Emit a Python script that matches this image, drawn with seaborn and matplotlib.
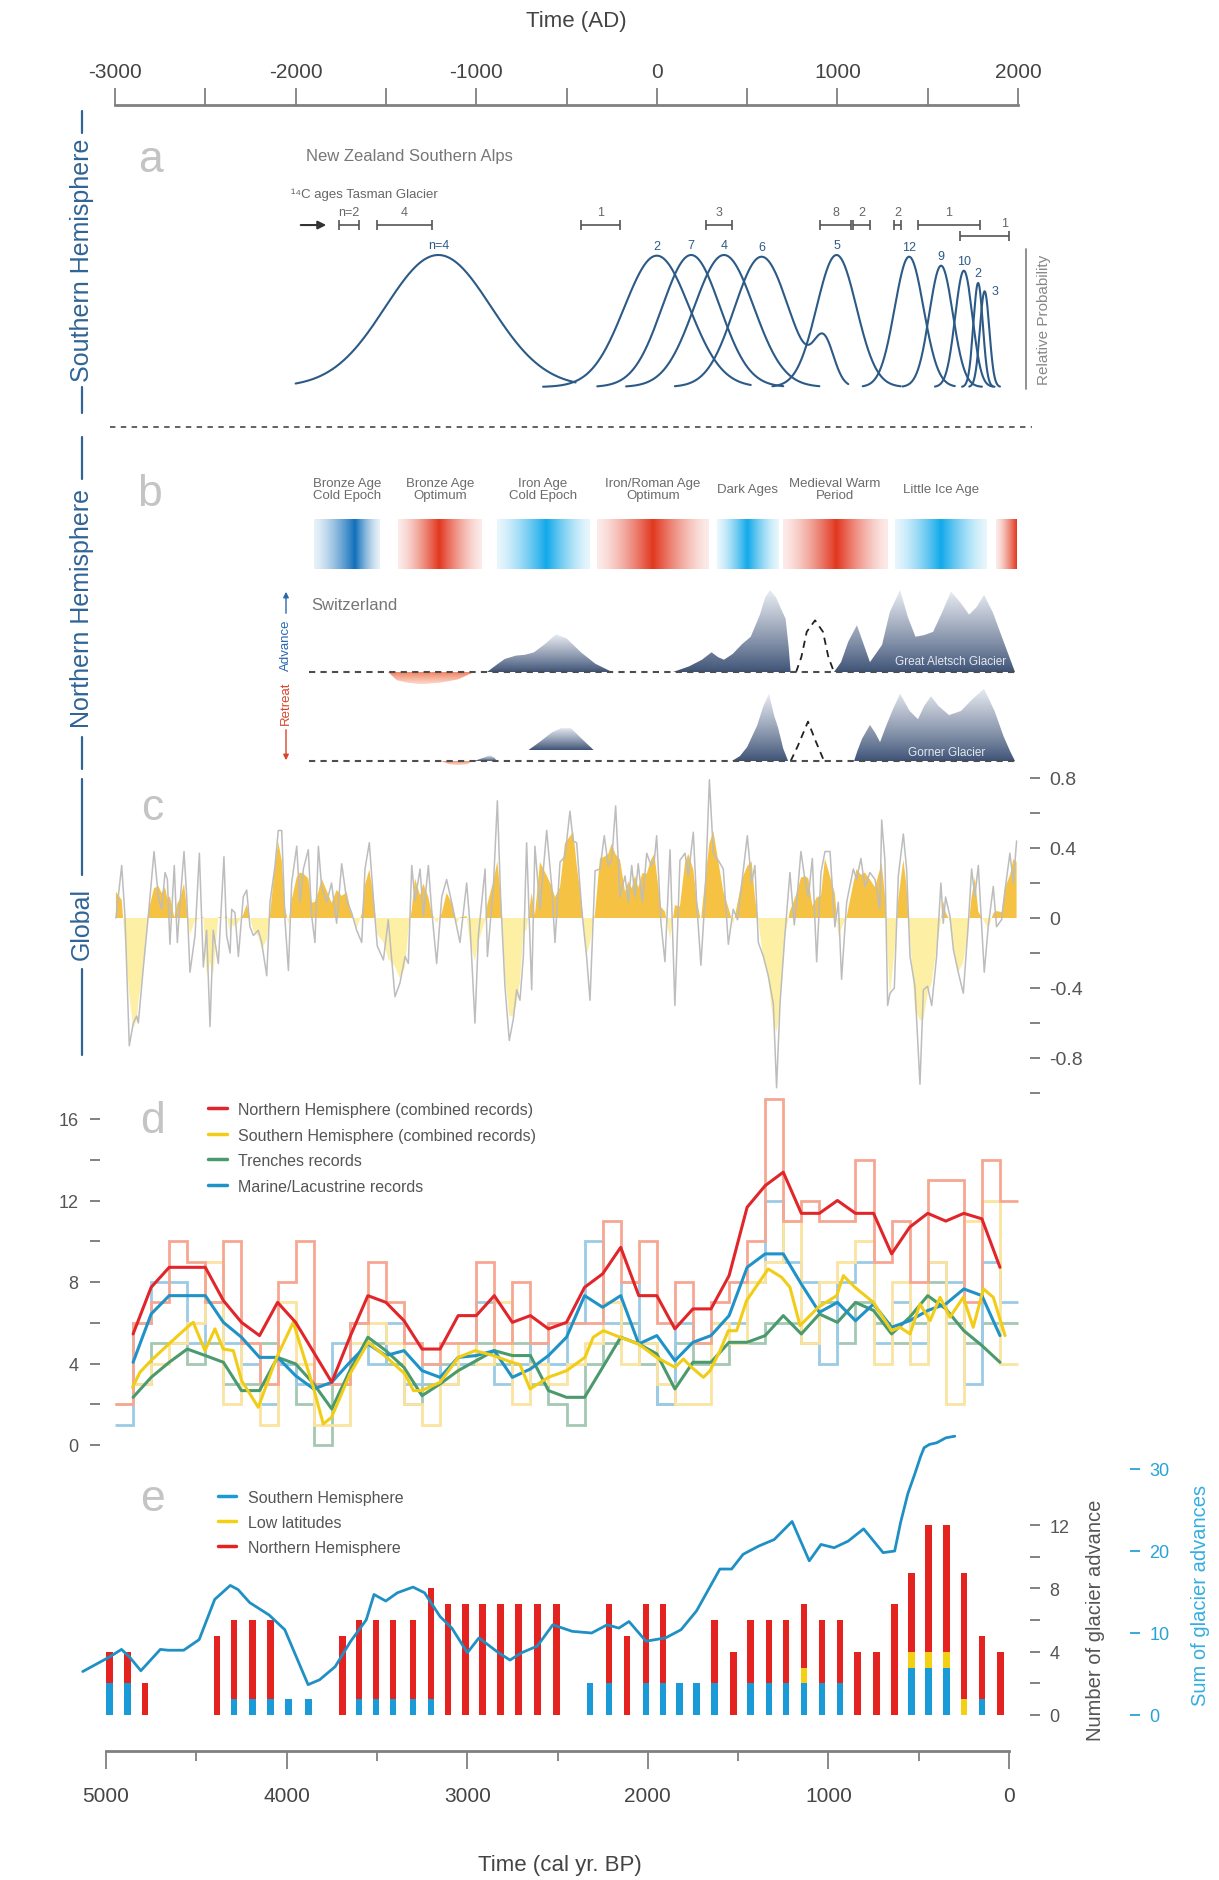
import numpy as np
import pandas as pd
import matplotlib
matplotlib.use("Agg")
import matplotlib.pyplot as plt
import seaborn as sns
from matplotlib.lines import Line2D
from matplotlib.path import Path
from matplotlib.patches import PathPatch, FancyArrowPatch
from matplotlib.colors import to_rgb

# ---------------------------------------------------------------- data
# (a) New Zealand Southern Alps, probability peaks (years AD)
nz_peak_ad = [-1210, 0, 190, 372, 580, 995, 1397, 1574, 1700, 1779, 1815]
nz_sigma = [293, 180, 160, 165, 150, 110, 80, 65, 48, 26, 26]
nz_height = [1.0, 0.995, 1.0, 1.0, 0.987, 1.0, 0.987, 0.919, 0.881, 0.788, 0.725]
nz_from_ad = [-2000, -630, -330, -170, 100, 640, 1140, 1360, 1540, 1690, 1730]
nz_to_ad = [-450, 520, 700, 900, 1060, 1350, 1650, 1800, 1860, 1870, 1900]
nz_label = ["n=4", "2", "7", "4", "6", "5", "12", "9", "10", "2", "3"]
shoulder_ad, shoulder_sigma, shoulder_h = 925, 55, 0.33   # bump on the AD 580 curve

c14_lo_ad = [-1760, -1549, -420, 272, 904, 1086, 1313, 1446, 1679]
c14_hi_ad = [-1649, -1245, -204, 416, 1075, 1180, 1352, 1790, 1950]
c14_n = ["n=2", "4", "1", "3", "8", "2", "2", "1", "1"]
c14_row = [0, 0, 0, 0, 0, 0, 0, 0, 1]
c14_arrow_ad = [-1987, -1815]

# (b) climate periods and Swiss glaciers (AD)
period_names = ["Bronze Age\nCold Epoch", "Bronze Age\nOptimum", "Iron Age\nCold Epoch",
                "Iron/Roman Age\nOptimum", "Dark Ages", "Medieval Warm\nPeriod", "Little Ice Age"]
band_start_ad = [-1898, -1433, -885, -331, 333, 699, 1319, 1878]
band_peak_ad = [-1671, -1206, -614, -21, 499, 992, 1574, 1994]
band_end_ad = [-1533, -968, -375, 289, 671, 1275, 1828, 1994]
band_color = ["#1170bb", "#e2371f", "#12a9ea", "#e2371f", "#12a9ea", "#e2371f", "#12a9ea", "#e2371f"]

al_ret_ad = [-1488, -1440, -1380, -1300, -1200, -1100, -1012]
al_ret_h = [0, -0.10, -0.13, -0.15, -0.13, -0.09, 0]
al_iron_ad = [-940, -880, -841, -780, -730, -680, -620, -558, -500, -420, -340, -248]
al_iron_h = [0, 0.10, 0.16, 0.20, 0.21, 0.24, 0.34, 0.46, 0.41, 0.24, 0.10, 0]
al_dark_ad = [90, 180, 250, 303, 340, 372, 420, 472, 520, 571, 600, 627, 660, 690, 713, 730, 741]
al_dark_h = [0, 0.07, 0.15, 0.24, 0.18, 0.15, 0.22, 0.34, 0.43, 0.70, 0.91, 1.0, 0.91, 0.76, 0.65, 0.30, 0]
al_mwp_ad = [771, 800, 830, 876, 920, 950, 981]
al_mwp_h = [0, 0.18, 0.49, 0.63, 0.49, 0.18, 0]
al_lia_ad = [981, 1020, 1060, 1108, 1140, 1180, 1247, 1290, 1347, 1390, 1432, 1480, 1530,
             1580, 1629, 1680, 1729, 1770, 1812, 1860, 1900, 1956, 1983]
al_lia_h = [0, 0.12, 0.37, 0.57, 0.37, 0.12, 0.33, 0.73, 1.0, 0.67, 0.43, 0.45, 0.49,
            0.73, 0.98, 0.85, 0.70, 0.79, 0.94, 0.73, 0.49, 0.16, 0]

go_ret_ad = [-1195, -1150, -1100, -1050, -1023]
go_ret_h = [0, -0.04, -0.05, -0.04, 0]
go_bump_ad = [-1012, -960, -924, -900, -885]
go_bump_h = [0, 0.04, 0.07, 0.04, 0]
go_iron_ad = [-713, -650, -580, -530, -475, -420, -348]
go_iron_h = [0, 0.10, 0.22, 0.27, 0.27, 0.15, 0]
go_iron_base = 0.13
go_dark_ad = [416, 460, 500, 555, 590, 621, 650, 671, 700, 727]
go_dark_h = [0, 0.06, 0.17, 0.43, 0.67, 0.82, 0.55, 0.41, 0.15, 0]
go_mwp_ad = [741, 780, 837, 880, 926]
go_mwp_h = [0, 0.18, 0.48, 0.24, 0]
go_lia_ad = [1092, 1110, 1136, 1180, 1210, 1236, 1270, 1307, 1347, 1400, 1446, 1480, 1518,
             1560, 1618, 1684, 1750, 1812, 1870, 1920, 1956, 1983]
go_lia_h = [0, 0.12, 0.27, 0.44, 0.34, 0.23, 0.43, 0.63, 0.82, 0.61, 0.51, 0.67, 0.79,
            0.67, 0.56, 0.61, 0.76, 0.88, 0.61, 0.30, 0.12, 0]

# (c) total solar irradiance anomaly (cal yr BP)
tsi_bp = [4945, 4913, 4895, 4871, 4849, 4830, 4821, 4793, 4766, 4734, 4710, 4692, 4673, 4660,
          4646, 4622, 4605, 4590, 4568, 4553, 4535, 4507, 4483, 4461, 4443, 4424, 4406, 4378,
          4347, 4332, 4313, 4304, 4286, 4267, 4240, 4221, 4203, 4184, 4157, 4138, 4110, 4092,
          4064, 4046, 4027, 4009, 3990, 3972, 3944, 3926, 3907, 3880, 3861, 3843, 3824, 3806,
          3778, 3751, 3723, 3695, 3667, 3640, 3612, 3584, 3566, 3542, 3520, 3498, 3464, 3437,
          3400, 3372, 3344, 3326, 3307, 3289, 3261, 3243, 3215, 3197, 3169, 3141, 3114, 3086,
          3058, 3040, 3003, 2985, 2957, 2938, 2901, 2888, 2855, 2833, 2815, 2791, 2767, 2745,
          2726, 2708, 2689, 2671, 2643, 2625, 2597, 2560, 2532, 2514, 2486, 2459, 2431, 2413,
          2394, 2366, 2339, 2320, 2292, 2265, 2241, 2219, 2200, 2178, 2154, 2126, 2108, 2089,
          2071, 2053, 2030, 2006, 1982, 1964, 1951, 1927, 1905, 1877, 1850, 1822, 1794, 1776,
          1748, 1730, 1706, 1683, 1659, 1637, 1610, 1582, 1554, 1527, 1503, 1477, 1449, 1425,
          1407, 1388, 1360, 1333, 1305, 1287, 1268, 1241, 1213, 1189, 1176, 1152, 1130, 1111,
          1089, 1065, 1041, 1019, 991, 964, 945, 927, 899, 862, 844, 820, 798, 770, 742, 715,
          705, 687, 672, 659, 635, 613, 585, 567, 548, 521, 493, 474, 451, 428, 401, 377, 364,
          351, 327, 308, 281, 253, 225, 207, 189, 170, 137, 115, 87, 69, 41, 22, -5, -24, -42]
tsi_val = [0.00, 0.30, 0.01, -0.73, -0.60, -0.56, -0.60, -0.28, 0.01, 0.38, 0.12, 0.05, 0.26, 0.22,
           -0.15, 0.30, -0.14, 0.09, 0.38, 0.12, -0.31, -0.10, 0.37, -0.28, -0.07, -0.62, -0.07, -0.26,
           0.35, -0.10, -0.20, 0.05, 0.03, -0.22, 0.12, 0.16, -0.05, -0.10, -0.07, -0.14, -0.33, 0.09,
           0.30, 0.50, 0.50, -0.01, -0.30, 0.20, 0.41, 0.09, 0.28, 0.39, 0.01, -0.14, 0.41, 0.18,
           0.09, 0.20, -0.03, 0.31, 0.10, 0.03, -0.07, -0.14, 0.28, 0.43, 0.12, -0.16, -0.24, -0.01,
           -0.45, -0.37, -0.22, -0.26, 0.30, 0.10, 0.28, 0.01, 0.30, 0.05, -0.26, 0.12, 0.22, 0.09,
           -0.05, -0.14, 0.20, -0.03, -0.60, -0.10, 0.28, -0.22, 0.18, 0.67, 0.12, -0.39, -0.70, -0.58,
           -0.41, -0.47, -0.22, 0.43, -0.41, 0.41, 0.05, 0.50, 0.18, -0.14, 0.32, 0.35, 0.61, 0.44,
           0.43, 0.05, -0.22, -0.47, 0.27, 0.28, 0.47, 0.30, 0.33, 0.64, 0.12, 0.24, 0.09, 0.30,
           0.12, 0.31, 0.09, 0.37, 0.30, 0.33, 0.47, -0.03, -0.25, 0.39, -0.50, 0.33, 0.37, 0.24,
           0.49, 0.10, -0.27, 0.12, 0.79, 0.37, 0.33, 0.28, -0.15, 0.05, -0.01, 0.22, 0.47, 0.20,
           0.30, -0.14, -0.22, -0.33, -0.49, -0.97, -0.49, -0.10, 0.26, -0.04, 0.09, 0.38, 0.22, 0.12,
           0.34, -0.25, 0.26, 0.38, 0.38, -0.05, 0.09, -0.35, 0.09, 0.28, 0.22, 0.34, 0.18, 0.26, 0.22, 0.05,
           0.56, 0.33, -0.50, -0.43, -0.40, 0.24, 0.48, 0.28, -0.22, -0.39, -0.95, -0.41, -0.39, -0.50, -0.22, 0.20, -0.03,
           0.12, 0.01, -0.18, -0.31, -0.43, -0.03, 0.28, 0.12, 0.30, -0.31, -0.05, 0.18, -0.05, -0.01, 0.16, 0.37, 0.20, 0.44]

# (d) earthquake rate per 100 yr, 100-yr bins centred 4900 ... 0 BP
eq_bin_bp = np.arange(4900, -1, -100)
eq_nh_step = [2, 6, 7, 10, 9, 7, 10, 5, 3, 8, 10, 3, 3, 6, 9, 7, 5, 4, 5, 5, 9, 5, 8, 5, 6,
              6, 6, 11, 8, 10, 6, 8, 5, 7, 8, 10, 17, 11, 12, 11, 11, 14, 9, 11, 8, 13, 13, 7, 14, 12]
eq_sh_step = [2, 3, 4, 5, 6, 9, 2, 5, 1, 7, 4, 1, 1, 5, 6, 5, 2, 1, 3, 5, 4, 7, 2, 4, 3,
              4, 5, 7, 4, 5, 3, 2, 2, 6, 5, 8, 9, 11, 5, 8, 9, 10, 4, 8, 4, 9, 2, 11, 12, 4]
eq_tr_step = [2, 3, 5, 5, 4, 5, 3, 3, 5, 4, 2, 0, 3, 6, 5, 4, 2, 3, 4, 4, 5, 4, 5, 3, 2,
              1, 4, 5, 6, 4, 2, 5, 4, 4, 5, 5, 6, 6, 5, 7, 5, 7, 6, 5, 6, 8, 6, 5, 6, 6]
eq_ml_step = [1, 6, 8, 8, 5, 7, 5, 4, 2, 4, 3, 3, 5, 6, 4, 6, 3, 4, 3, 4, 7, 3, 4, 5, 4,
              6, 10, 6, 8, 5, 2, 6, 5, 6, 6, 8, 12, 9, 8, 4, 8, 9, 5, 7, 5, 9, 8, 3, 9, 7]
eq_edge_bp = np.arange(4850, 0, -100)
eq_nh_smooth = [5.45, 7.74, 8.72, 8.72, 8.72, 7.09, 6.02, 5.37, 7.0, 6.02, 4.55, 3.08, 5.29, 7.33, 7.0, 6.1,
                4.71, 4.71, 6.35, 6.35, 7.33, 6.02, 6.35, 5.7, 6.02, 7.74, 8.4, 9.7, 7.33, 7.33, 5.7, 6.68,
                6.68, 8.31, 11.67, 12.73, 13.39, 11.37, 11.37, 12.0, 11.37, 11.37, 9.38, 10.69, 11.37,
                10.99, 11.37, 11.1, 8.72]
eq_ml_smooth = [4.06, 6.43, 7.33, 7.33, 7.33, 6.02, 5.29, 4.3, 4.3, 3.4, 2.75, 3.08, 4.06, 4.96, 4.39, 4.63,
                3.65, 3.32, 4.3, 4.39, 4.63, 3.32, 3.73, 4.39, 5.29, 7.33, 6.76, 7.33, 4.96, 5.37, 4.14, 5.04,
                5.37, 6.35, 8.72, 9.38, 9.38, 7.9, 6.51, 7.0, 6.1, 6.92, 5.78, 6.1, 6.6, 6.92, 7.66, 7.33, 5.37]
eq_tr_smooth = [2.34, 3.32, 4.06, 4.71, 4.39, 4.06, 2.67, 2.67, 4.3, 3.98, 3.0, 1.77, 3.65, 5.29, 4.63, 3.81,
                2.42, 3.0, 3.65, 4.14, 4.63, 4.39, 4.39, 2.67, 2.34, 2.34, 3.81, 5.29, 4.96, 4.47, 2.75, 4.06,
                4.06, 5.04, 5.04, 5.37, 6.35, 5.45, 6.43, 6.02, 7.0, 6.6, 5.45, 6.27, 7.33, 6.68, 5.61, 4.88, 4.06]
eq_sh_smooth_bp = [4853, 4812, 4751, 4652, 4550, 4517, 4452, 4397, 4351, 4295, 4249, 4157, 4055, 3963,
                   3852, 3797, 3751, 3649, 3548, 3446, 3345, 3298, 3252, 3150, 3049, 2957, 2855, 2754,
                   2708, 2652, 2551, 2449, 2348, 2302, 2246, 2154, 2052, 1951, 1849, 1803, 1757, 1692,
                   1655, 1600, 1554, 1508, 1453, 1333, 1259, 1213, 1157, 1056, 954, 917, 853, 751, 650,
                   604, 548, 493, 437, 382, 327, 253, 198, 142, 87, 22]
eq_sh_smooth = [2.83, 3.57, 4.14, 4.96, 5.78, 6.02, 4.63, 5.7, 4.71, 4.63, 3.16, 1.85, 4.3, 6.02,
                2.83, 1.03, 1.36, 3.49, 5.04, 4.3, 3.49, 2.67, 2.67, 3.08, 4.3, 4.63, 4.39, 4.06,
                3.95, 2.75, 3.32, 3.65, 4.3, 5.29, 5.61, 5.29, 4.96, 4.3, 3.81, 4.22, 3.81, 3.32,
                3.65, 4.63, 5.61, 5.61, 7.09, 8.64, 8.23, 7.74, 5.86, 6.76, 7.33, 8.31, 7.74, 7.0, 5.61,
                5.78, 5.45, 6.92, 6.1, 7.25, 6.27, 7.25, 5.78, 7.66, 7.25, 5.37]
eq_names = ["Northern Hemisphere (combined records)", "Southern Hemisphere (combined records)",
            "Trenches records", "Marine/Lacustrine records"]

# (e) glacier advances
gl_bp = [4980, 4880, 4785, 4385, 4290, 4190, 4090, 3990, 3880, 3690, 3600, 3505, 3410, 3300, 3200,
         3105, 3010, 2915, 2815, 2715, 2610, 2505, 2320, 2215, 2115, 2010, 1915, 1825, 1730, 1630,
         1525, 1430, 1330, 1235, 1135, 1035, 935, 840, 735, 635, 540, 445, 345, 248, 150, 48]
gl_sh = [2, 2, 0, 0, 1, 1, 1, 1, 1, 0, 1, 1, 1, 1, 1, 0, 0, 0, 0, 0, 0, 0, 2, 2, 0, 2, 2, 2, 2, 2,
         0, 2, 2, 2, 2, 2, 2, 0, 0, 0, 3, 3, 3, 0, 1, 0]
gl_ll = [0, 0, 0, 0, 0, 0, 0, 0, 0, 0, 0, 0, 0, 0, 0, 0, 0, 0, 0, 0, 0, 0, 0, 0, 0, 0, 0, 0, 0, 0,
         0, 0, 0, 0, 1, 0, 0, 0, 0, 0, 1, 1, 1, 1, 0, 0]
gl_nh = [2, 2, 2, 5, 5, 5, 5, 0, 0, 5, 5, 5, 5, 5, 7, 7, 7, 7, 7, 7, 7, 7, 0, 5, 5, 5, 5, 0, 0, 4,
         4, 4, 4, 4, 4, 4, 4, 4, 4, 7, 5, 8, 8, 8, 4, 4]
cum_bp = [5129, 4979, 4914, 4871, 4807, 4699, 4656, 4570, 4484, 4398, 4312, 4269, 4204, 4097, 4010,
          3881, 3817, 3731, 3645, 3559, 3516, 3451, 3387, 3300, 3236, 3150, 3085, 2999, 2935, 2827,
          2763, 2698, 2612, 2526, 2418, 2311, 2225, 2160, 2104, 2010, 1902, 1816, 1730, 1644, 1601,
          1536, 1472, 1386, 1300, 1201, 1106, 1041, 968, 891, 805, 697, 633, 600, 560, 520, 490,
          470, 440, 400, 350, 300]
cum_val = [5.3, 7.1, 8.0, 7.1, 5.4, 8.0, 7.9, 7.9, 9.2, 14.1, 15.8, 15.3, 13.7, 12.2, 10.4,
           3.7, 4.3, 5.9, 9.0, 11.6, 14.7, 13.9, 14.9, 15.6, 14.9, 12.0, 10.6, 7.6, 9.4, 7.6,
           6.7, 7.6, 8.4, 11.0, 10.2, 10.0, 11.0, 10.6, 11.4, 9.0, 9.4, 10.4, 12.7, 16.1, 17.8,
           17.8, 19.6, 20.6, 21.4, 23.6, 18.8, 20.8, 20.4, 21.2, 22.7, 19.8, 20.0, 23.5, 27.0, 29.5, 31.5,
           32.6, 33.0, 33.2, 33.8, 34.0]
gl_names = ["Southern Hemisphere", "Low latitudes", "Northern Hemisphere"]

# ---------------------------------------------------------------- style
sns.set_theme(style="white")
plt.rcParams["font.family"] = ["Liberation Sans", "DejaVu Sans"]
plt.rcParams["axes.unicode_minus"] = False

NZ_BLUE = "#2c5a87"
HEMI = "#2f6496"
GRAY_TXT = "#555555"
LETTER = "#c4c4c4"
RED, YEL, GRN, BLU = "#e1262b", "#f2cd17", "#4b9a6d", "#1f92c8"
RED_L, YEL_L, GRN_L, BLU_L = "#f5a792", "#fbe3a0", "#a3c9b3", "#9ccbe6"
SH_BAR, LL_BAR, NH_BAR = "#1a9ad6", "#f3d012", "#e42320"

W, H = 1219, 1881
fig = plt.figure(figsize=(W / 100, H / 100), dpi=100)

# pixel layout: 5000 BP at x=106, 0 BP at x=1009
X5000, X0 = 106.0, 1009.0
PPY = (X0 - X5000) / 5000.0


def bp_px(px):
    return (X0 - px) / PPY


def ad2bp(ad):
    return 1950 - np.asarray(ad, dtype=float)


def fx(px):
    return px / W


def fy(px):
    return 1 - px / H


def panel(left, top, right, bottom):
    ax = fig.add_axes([fx(left), fy(bottom), (right - left) / W, (bottom - top) / H])
    ax.set_xlim(bp_px(left), bp_px(right))
    ax.patch.set_visible(False)
    for s in ax.spines.values():
        s.set_visible(False)
    ax.set_xticks([])
    ax.set_yticks([])
    return ax


def grad_fill(ax, ad, h, base, c_base, c_tip, z=2):
    x = ad2bp(ad)
    y = base + np.asarray(h, dtype=float)
    verts = np.column_stack([np.r_[x, x[::-1]], np.r_[y, np.full(len(x), base)]])
    patch = PathPatch(Path(verts), facecolor="none", edgecolor="none", transform=ax.transData)
    ax.add_patch(patch)
    lo, hi = min(base, y.min()), max(base, y.max())
    ys = np.linspace(lo, hi, 120)
    frac = (np.abs(ys - base) / max(hi - lo, 1e-6)) ** 0.9
    c0, c1 = np.array(to_rgb(c_base)), np.array(to_rgb(c_tip))
    img = c0[None, :] + (c1 - c0)[None, :] * frac[:, None]
    im = ax.imshow(img[:, None, :], extent=(x.max(), x.min(), lo, hi), origin="lower",
                   aspect="auto", interpolation="bilinear", zorder=z)
    im.set_clip_path(patch)


# ---------------------------------------------------------------- top AD axis
ax_ad = fig.add_axes([fx(115), fy(106), (1018 - 115) / W, 18 / H])
ax_ad.patch.set_visible(False)
ax_ad.set_xlim(-3000, 2000)
for k in ["top", "left", "right"]:
    ax_ad.spines[k].set_visible(False)
ax_ad.spines["bottom"].set_color("#808080")
ax_ad.spines["bottom"].set_linewidth(2)
ax_ad.set_yticks([])
ad_ticks = [-3000, -2000, -1000, 0, 1000, 2000]
ax_ad.set_xticks(ad_ticks, labels=[str(t) for t in ad_ticks])
ax_ad.set_xticks([-2500, -1500, -500, 500, 1500], minor=True)
ax_ad.tick_params(axis="x", which="both", direction="in", length=12.5, width=1.3, color="#808080",
                  bottom=True, top=False, labelbottom=False, labeltop=True, labelsize=15,
                  labelcolor="#444444", pad=4.5)
fig.text(fx(576), fy(22), "Time (AD)", ha="center", va="center", fontsize=16, color="#444444")

# ---------------------------------------------------------------- hemisphere brackets
for y0, y1 in [(112, 134), (388, 414), (438, 480), (738, 770), (780, 876), (970, 1056)]:
    fig.add_artist(Line2D([fx(82), fx(82)], [fy(y0), fy(y1)], color=HEMI, lw=1.6))
for txt, yc in [("Southern Hemisphere", 260), ("Northern Hemisphere", 608), ("Global", 924)]:
    fig.text(fx(82), fy(yc), txt, rotation=90, ha="center", va="center", fontsize=18, color=HEMI)
fig.add_artist(Line2D([fx(110), fx(1032)], [fy(428), fy(428)], color="#555555", lw=1.3,
                      ls=(0, (3, 3))))

for letter, (lx, ly) in zip("abcde", [(150, 160), (150, 494), (152, 808), (152, 1122), (152, 1500)]):
    fig.text(fx(lx), fy(ly), letter, ha="center", va="center", fontsize=32, color=LETTER)

# ---------------------------------------------------------------- (a)
ax_a = panel(79, 140, 1034, 420)
for i in range(len(nz_peak_ad)):
    ad = np.linspace(nz_from_ad[i], nz_to_ad[i], 300)
    y = nz_height[i] * np.exp(-0.5 * ((ad - nz_peak_ad[i]) / nz_sigma[i]) ** 2)
    if i == 4:
        y = y + shoulder_h * np.exp(-0.5 * ((ad - shoulder_ad) / shoulder_sigma) ** 2)
    sns.lineplot(x=ad2bp(ad), y=y, ax=ax_a, color=NZ_BLUE, linewidth=1.5, legend=False)
    lx = nz_peak_ad[i] + (57 if i == 10 else 0)
    ly = nz_height[i] + (0.0 if i == 10 else 0.075)
    ax_a.text(ad2bp(lx), ly, nz_label[i], ha="center", va="center", fontsize=9, color=NZ_BLUE)

for lo, hi, n, row in zip(c14_lo_ad, c14_hi_ad, c14_n, c14_row):
    yb = 1.227 if row == 0 else 1.144
    ax_a.hlines(yb, ad2bp(lo), ad2bp(hi), color="#555555", lw=1.2)
    ax_a.vlines(ad2bp([lo, hi]), yb - 0.04, yb + 0.04, color="#555555", lw=1.2)
    lx = (lo + hi) / 2 if row == 0 else hi - 22
    ax_a.text(ad2bp(lx), yb + 0.1, n, ha="center", va="center", fontsize=9, color="#666666")
ax_a.annotate("", xy=(ad2bp(c14_arrow_ad[1]), 1.227), xytext=(ad2bp(c14_arrow_ad[0]), 1.227),
              arrowprops=dict(arrowstyle="-|>", color="#333333", lw=1.5, mutation_scale=12))
ax_a.text(ad2bp(-2025), 1.462, "¹⁴C ages Tasman Glacier", ha="left", va="center",
          fontsize=9.5, color="#666666")
ax_a.text(ad2bp(-1942), 1.75, "New Zealand Southern Alps", ha="left", va="center",
          fontsize=12, color="#777777")
ax_a.plot([bp_px(1026)] * 2, [-0.015, 1.045], color="#888888", lw=1.3)
ax_a.text(bp_px(1044), 0.515, "Relative Probability", rotation=90, ha="center", va="center",
          fontsize=11, color="#888888", clip_on=False)
ax_a.set_xlim(bp_px(79), bp_px(1034))
ax_a.set_ylim(-(420 - 388) / 132, (388 - 140) / 132)

# ---------------------------------------------------------------- (b)
ax_b = panel(79, 470, 1034, 580)
for s, p, e, c in zip(band_start_ad, band_peak_ad, band_end_ad, band_color):
    ad = np.linspace(s, e, 240)
    half = np.where(ad < p, p - s, e - p)
    half = np.where(half <= 0, 1, half)
    t = 1 - np.clip(np.abs(ad - p) / half, 0, 1)
    a = 0.10 + 0.90 * t ** 1.4
    cc = np.array(to_rgb(c))
    img = 1 - a[:, None] * (1 - cc[None, :])
    ax_b.imshow(img[None, :, :], extent=(ad2bp(s), ad2bp(e), 570, 520), aspect="auto",
                interpolation="bilinear")
for name, s, e in zip(period_names, band_start_ad[:7], band_end_ad[:7]):
    ax_b.text(ad2bp((s + e) / 2), 490, name, ha="center", va="center", fontsize=9.5,
              color="#6b6b6b", linespacing=1.05)
ax_b.set_xlim(bp_px(79), bp_px(1034))
ax_b.set_ylim(580, 470)

BLUE_BASE, BLUE_TIP = "#3d5276", "#e9ecf2"
RET_BASE, RET_TIP = "#ef7a57", "#fcd9ca"

ax_al = panel(79, 580, 1034, 700)
grad_fill(ax_al, al_ret_ad, al_ret_h, 0, RET_BASE, RET_TIP)
grad_fill(ax_al, al_iron_ad, al_iron_h, 0, BLUE_BASE, BLUE_TIP)
grad_fill(ax_al, al_dark_ad, al_dark_h, 0, BLUE_BASE, BLUE_TIP)
grad_fill(ax_al, al_lia_ad, al_lia_h, 0, BLUE_BASE, BLUE_TIP)
ax_al.plot(ad2bp(al_mwp_ad), al_mwp_h, color="#222222", lw=1.3, ls=(0, (4, 3)), zorder=4)
ax_al.plot(ad2bp([-1926, 1983]), [0, 0], color="#4d4d4d", lw=1.5, ls=(0, (3, 2.5)), zorder=5)
ax_al.text(ad2bp(1629), 0.134, "Great Aletsch Glacier", ha="center", va="center", fontsize=8.5,
           color="#e3e7ee", zorder=6)
ax_al.set_xlim(bp_px(79), bp_px(1034))
ax_al.set_ylim(-(700 - 673) / 82, (673 - 580) / 82)

ax_go = panel(79, 680, 1034, 775)
grad_fill(ax_go, go_ret_ad, go_ret_h, 0, RET_BASE, RET_TIP)
grad_fill(ax_go, go_bump_ad, go_bump_h, 0, BLUE_BASE, BLUE_TIP)
grad_fill(ax_go, go_iron_ad, go_iron_h, go_iron_base, BLUE_BASE, BLUE_TIP)
grad_fill(ax_go, go_dark_ad, go_dark_h, 0, BLUE_BASE, BLUE_TIP)
grad_fill(ax_go, go_lia_ad, go_lia_h, 0, BLUE_BASE, BLUE_TIP)
ax_go.plot(ad2bp(go_mwp_ad), go_mwp_h, color="#222222", lw=1.3, ls=(0, (4, 3)), zorder=4)
ax_go.plot(ad2bp([-1926, 1983]), [0, 0], color="#4d4d4d", lw=1.5, ls=(0, (3, 2.5)), zorder=5)
ax_go.text(ad2bp(1607), 0.11, "Gorner Glacier", ha="center", va="center", fontsize=8.5,
           color="#e3e7ee", zorder=6)
ax_go.set_xlim(bp_px(79), bp_px(1034))
ax_go.set_ylim(-(775 - 762) / 82, (762 - 680) / 82)

fig.text(fx(311), fy(605), "Switzerland", ha="left", va="center", fontsize=12, color="#777777")
fig.add_artist(FancyArrowPatch((fx(286), fy(617)), (fx(286), fy(590)), transform=fig.transFigure,
                               arrowstyle="-|>", mutation_scale=8, color="#2b67b0", lw=1))
fig.text(fx(286), fy(645), "Advance", rotation=90, ha="center", va="center", fontsize=9.5,
         color="#2b67b0")
fig.text(fx(286), fy(703), "Retreat", rotation=90, ha="center", va="center", fontsize=9.5,
         color="#d9452b")
fig.add_artist(FancyArrowPatch((fx(286), fy(728)), (fx(286), fy(764)), transform=fig.transFigure,
                               arrowstyle="-|>", mutation_scale=8, color="#d9452b", lw=1))

# ---------------------------------------------------------------- (c)
ax_c = panel(79, 770, 1030, 1100)
# shaded areas follow a 3-point running mean of the traced curve
tsi_smooth = pd.Series(tsi_val).rolling(3, center=True, min_periods=1).mean().to_numpy()
ax_c.fill_between(tsi_bp, 0, tsi_smooth, where=tsi_smooth >= 0, interpolate=True,
                  color="#f6c243", lw=0, zorder=1)
ax_c.fill_between(tsi_bp, 0, tsi_smooth, where=tsi_smooth < 0, interpolate=True,
                  color="#fdf0a4", lw=0, zorder=1)
sns.lineplot(x=tsi_bp, y=tsi_val, ax=ax_c, color="#bdbdbd", linewidth=1.1, legend=False, zorder=2)
ax_c.yaxis.tick_right()
ax_c.set_yticks([-0.8, -0.4, 0, 0.4, 0.8], labels=["-0.8", "-0.4", "0", "0.4", "0.8"])
ax_c.set_yticks([-1.0, -0.6, -0.2, 0.2, 0.6], minor=True)
ax_c.tick_params(axis="y", which="both", right=True, left=False, labelright=True, labelleft=False,
                 direction="out", length=7, width=1.3, color="#777777", labelsize=14,
                 labelcolor=GRAY_TXT, pad=7)
ax_c.yaxis.set_label_position("right")
ax_c.set_ylabel("Total Solar Irradiance (ΔTSI)", fontsize=14, color=GRAY_TXT)
ax_c.yaxis.set_label_coords((1139 - 79) / 951, (1100 - 922) / 330)
ax_c.yaxis.label.set_va("center")
ax_c.set_xlabel("")
ax_c.set_xlim(bp_px(79), bp_px(1030))
ax_c.set_ylim(-(1100 - 919) / 175, (919 - 770) / 175)

# ---------------------------------------------------------------- (d)
ax_d = panel(100, 1092, 1030, 1460)
edges = np.arange(-50, 4951, 100)
for vals, col in [(eq_tr_step, GRN_L), (eq_ml_step, BLU_L), (eq_sh_step, YEL_L), (eq_nh_step, RED_L)]:
    ax_d.stairs(np.asarray(vals)[::-1], edges, baseline=None, color=col, lw=2, zorder=1)
sns.lineplot(x=eq_edge_bp, y=eq_tr_smooth, ax=ax_d, color=GRN, linewidth=2.2, legend=False, zorder=3)
sns.lineplot(x=eq_edge_bp, y=eq_ml_smooth, ax=ax_d, color=BLU, linewidth=2.2, legend=False, zorder=3)
sns.lineplot(x=eq_sh_smooth_bp, y=eq_sh_smooth, ax=ax_d, color=YEL, linewidth=2.2, legend=False, zorder=3)
sns.lineplot(x=eq_edge_bp, y=eq_nh_smooth, ax=ax_d, color=RED, linewidth=2.2, legend=False, zorder=4)
ax_d.set_yticks([0, 4, 8, 12, 16], labels=["0", "4", "8", "12", "16"])
ax_d.set_yticks([2, 6, 10, 14], minor=True)
ax_d.tick_params(axis="y", which="both", left=True, labelleft=True, direction="out", length=7,
                 width=1.3, color="#777777", labelsize=13, labelcolor=GRAY_TXT, pad=8.5)
ax_d.set_ylabel("Earthquake rate/100 yr. M$_\\mathregular{w}$ ≥5", fontsize=14, color=GRAY_TXT)
ax_d.yaxis.set_label_coords((22 - 100) / 930, (1460 - 1277) / 368)
ax_d.yaxis.label.set_va("center")
ax_d.set_xlabel("")
eq_handles = [Line2D([], [], color=c, lw=2.5) for c in [RED, YEL, GRN, BLU]]
ax_d.legend(eq_handles, eq_names, loc="upper left", bbox_to_anchor=(fx(208), fy(1103)),
            bbox_transform=fig.transFigure, frameon=False, fontsize=11.5, handlelength=1.2,
            handletextpad=0.7, labelspacing=0.66, borderpad=0, borderaxespad=0, labelcolor=GRAY_TXT)
ax_d.set_xlim(bp_px(100), bp_px(1030))
ax_d.set_ylim(-(1460 - 1446) / 20.375, (1446 - 1092) / 20.375)

# ---------------------------------------------------------------- (e)
ax_e = panel(79, 1430, 1030, 1730)
ax_e2 = ax_e.twinx()
sh = np.asarray(gl_sh)
ll = np.asarray(gl_ll)
nh = np.asarray(gl_nh)
ax_e.bar(gl_bp, sh, width=36, color=SH_BAR, lw=0)
ax_e.bar(gl_bp, ll, width=36, bottom=sh, color=LL_BAR, lw=0)
ax_e.bar(gl_bp, nh, width=36, bottom=sh + ll, color=NH_BAR, lw=0)
ax_e.yaxis.tick_right()
ax_e.set_yticks([0, 4, 8, 12], labels=["0", "4", "8", "12"])
ax_e.set_yticks([2, 6, 10], minor=True)
ax_e.tick_params(axis="y", which="both", right=True, left=False, labelright=True, labelleft=False,
                 direction="out", length=7, width=1.3, color="#777777", labelsize=13,
                 labelcolor=GRAY_TXT, pad=7)
ax_e.yaxis.set_label_position("right")
ax_e.set_ylabel("Number of glacier advance", fontsize=14.5, color=GRAY_TXT)
ax_e.yaxis.set_label_coords((1096 - 79) / 951, (1730 - 1620) / 300)
ax_e.yaxis.label.set_va("center")
gl_handles = [Line2D([], [], color=c, lw=2.5) for c in [SH_BAR, LL_BAR, NH_BAR]]
ax_e.legend(gl_handles, gl_names, loc="upper left", bbox_to_anchor=(fx(218), fy(1491)),
            bbox_transform=fig.transFigure, frameon=False, fontsize=11.5, handlelength=1.1,
            handletextpad=0.75, labelspacing=0.62, borderpad=0, borderaxespad=0, labelcolor=GRAY_TXT)
ax_e.set_xlim(bp_px(79), bp_px(1030))
ax_e.set_ylim(-(1730 - 1716) / 15.83, (1716 - 1430) / 15.83)

ax_e2.patch.set_visible(False)
for k in ["top", "left", "bottom"]:
    ax_e2.spines[k].set_visible(False)
ax_e2.spines["right"].set_position(("outward", 72))
ax_e2.spines["right"].set_color("none")
sns.lineplot(x=cum_bp, y=cum_val, ax=ax_e2, color="#1f90c4", linewidth=2, legend=False)
ax_e2.set_yticks([0, 10, 20, 30], labels=["0", "10", "20", "30"])
ax_e2.tick_params(axis="y", which="both", right=True, left=False, labelright=True, labelleft=False,
                  direction="out", length=7, width=1.3, color="#27a3d6", labelsize=13,
                  labelcolor="#27a3d6", pad=7)
ax_e2.set_ylabel("Sum of glacier advances", fontsize=14.5, color="#35aee0")
ax_e2.yaxis.set_label_coords((1201 - 79) / 951, (1730 - 1595) / 300)
ax_e2.yaxis.label.set_va("center")
ax_e2.set_xlabel("")
ax_e2.set_xlim(bp_px(79), bp_px(1030))
ax_e2.set_ylim(-(1730 - 1716) / 8.2, (1716 - 1430) / 8.2)

# ---------------------------------------------------------------- bottom BP axis
ax_bp = fig.add_axes([fx(106), fy(1770), (1009 - 106) / W, 18 / H])
ax_bp.patch.set_visible(False)
ax_bp.set_xlim(5000, 0)
for k in ["bottom", "left", "right"]:
    ax_bp.spines[k].set_visible(False)
ax_bp.spines["top"].set_color("#808080")
ax_bp.spines["top"].set_linewidth(2)
ax_bp.set_yticks([])
bp_ticks = [5000, 4000, 3000, 2000, 1000, 0]
ax_bp.set_xticks(bp_ticks, labels=[str(t) for t in bp_ticks])
ax_bp.set_xticks([4500, 3500, 2500, 1500, 500], minor=True)
ax_bp.tick_params(axis="x", which="major", direction="in", length=13, width=1.3, color="#808080",
                  top=True, bottom=False, labeltop=False, labelbottom=True, labelsize=15,
                  labelcolor="#444444", pad=12.5)
ax_bp.tick_params(axis="x", which="minor", direction="in", length=7.2, width=1.3, color="#808080",
                  top=True, bottom=False)
fig.text(fx(560), fy(1866), "Time (cal yr. BP)", ha="center", va="center", fontsize=16, color="#444444")

fig.savefig("out.png", dpi=100, facecolor="white")
